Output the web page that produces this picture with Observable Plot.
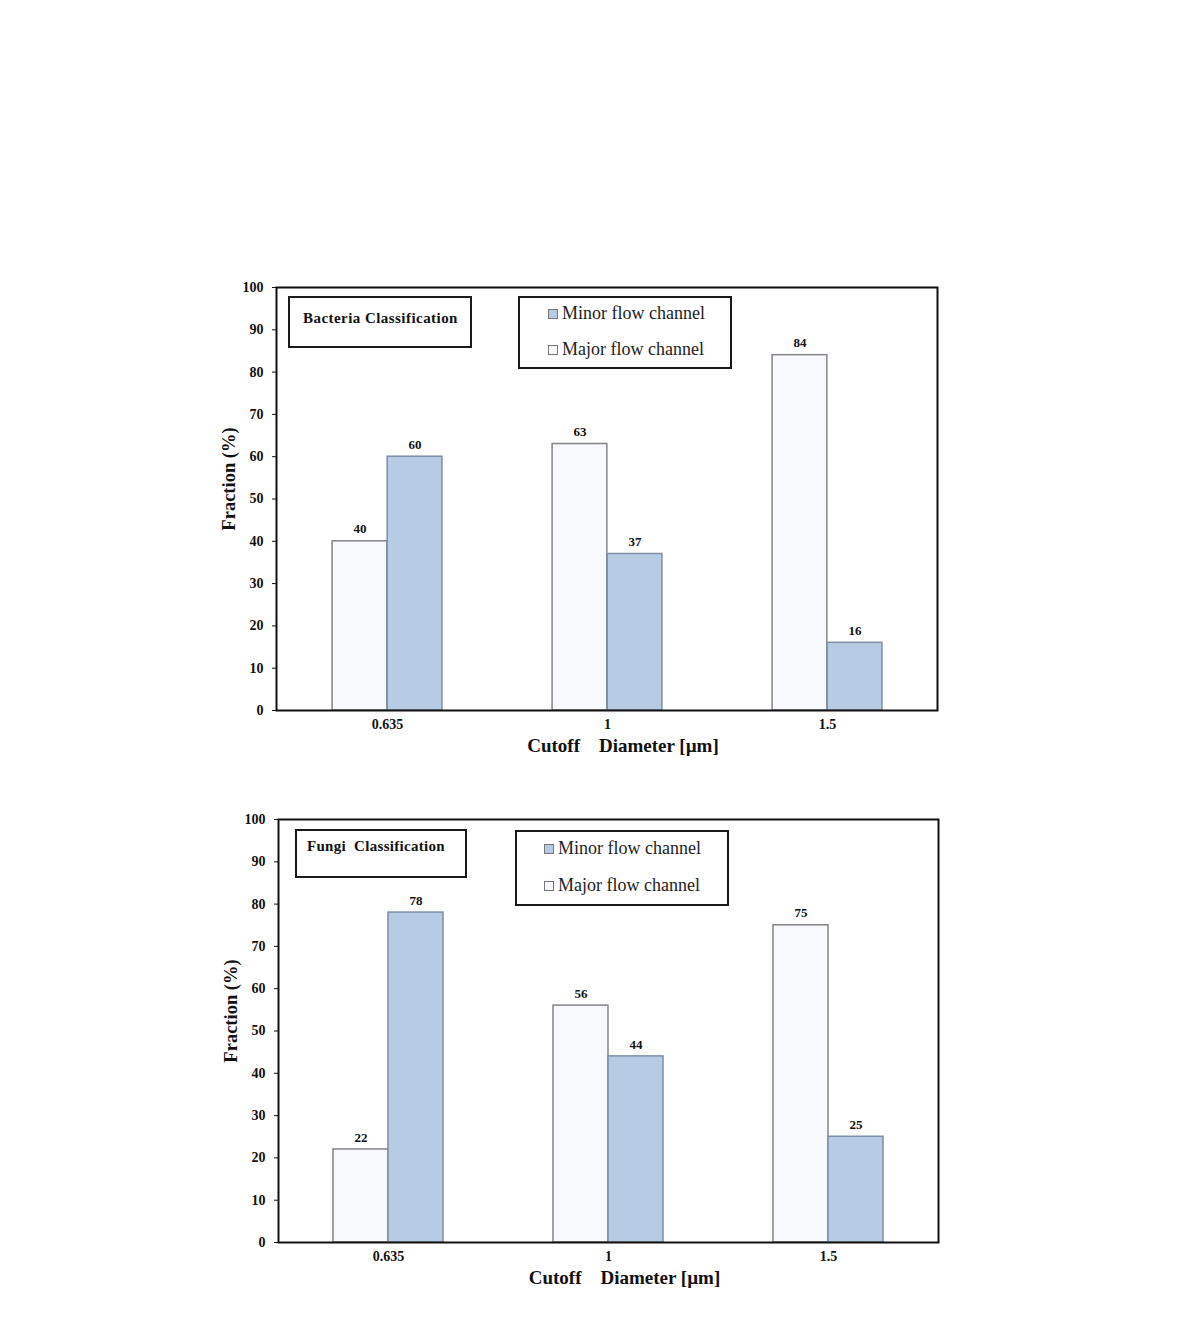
<!DOCTYPE html>
<html>
<head>
<meta charset="utf-8">
<script src="https://cdn.jsdelivr.net/npm/d3@7"></script>
<script src="https://cdn.jsdelivr.net/npm/@observablehq/plot@0.6"></script>
<style>
  body { margin: 0; background: #fff; }
  #page { position: relative; width: 1190px; height: 1331px; background: #fff; font-family: "Liberation Serif", "Times New Roman", serif; }
  .chart { position: absolute; left: 0; width: 1000px; height: 490px; }
  .box { position: absolute; box-sizing: border-box; border: 2px solid #1a1a1a; background: #fff; }
  .title { font-weight: bold; font-size: 15px; color: #111; white-space: pre; }
  .leg { font-size: 18px; color: #222; white-space: pre; }
  .row { position: absolute; display: flex; align-items: center; }
  .sw { display: inline-block; width: 8px; height: 8px; border: 1px solid #777; margin-right: 4px; }
</style>
</head>
<body>
<div id="page">
  <div class="chart" id="c1" style="top:270px"></div>
  <div class="chart" id="c2" style="top:802px"></div>
</div>
<script>
// ---- data ----
const cutoffs = ["0.635", "1", "1.5"];
const bacteriaMajor = [40, 63, 84];
const bacteriaMinor = [60, 37, 16];
const fungiMajor = [22, 56, 75];
const fungiMinor = [78, 44, 25];
const yTicks = [0, 10, 20, 30, 40, 50, 60, 70, 80, 90, 100];
const seriesNames = ["Minor flow channel", "Major flow channel"];
const titles = ["Bacteria Classification", "Fungi  Classification"];
const xLabel = "Cutoff\u00a0\u00a0\u00a0\u00a0Diameter [\u00b5m]";
const yLabel = "Fraction (%)";

const majorFill = "#f7f9fc";
const minorFill = "#b7cbe4";
const FONT = '"Liberation Serif", "Times New Roman", serif';

function chart(el, major, minor, ml, mr, cfg) {
  const width = 1000, height = 490, mt = 17, mb = 50;
  const bw = (width - ml - mr) / cutoffs.length;
  const majRows = cutoffs.map((c, i) => ({cutoff: c, value: major[i]}));
  const minRows = cutoffs.map((c, i) => ({cutoff: c, value: minor[i]}));
  const p = Plot.plot({
    width, height,
    marginLeft: ml, marginRight: mr, marginTop: mt, marginBottom: mb,
    style: {fontFamily: FONT, fontWeight: "bold", fontSize: "14px", color: "#111", background: "#fff"},
    x: {domain: cutoffs, padding: 0},
    y: {domain: [0, 100]},
    marks: [
      Plot.barY(majRows, {x: "cutoff", y: "value", fill: majorFill, stroke: "#858585", strokeWidth: 1.5, insetLeft: bw * 0.25, insetRight: bw * 0.5}),
      Plot.barY(minRows, {x: "cutoff", y: "value", fill: minorFill, stroke: "#7f8ea3", strokeWidth: 1.5, insetLeft: bw * 0.5, insetRight: bw * 0.25}),
      Plot.text(majRows, {x: "cutoff", y: "value", text: d => String(d.value), dx: -bw * 0.125, dy: -12, fontSize: 13, fontFamily: FONT, fontWeight: "bold", fill: "#111"}),
      Plot.text(minRows, {x: "cutoff", y: "value", text: d => String(d.value), dx: bw * 0.125, dy: -12, fontSize: 13, fontFamily: FONT, fontWeight: "bold", fill: "#111"}),
      Plot.axisY({ticks: yTicks, tickSize: 4, tickPadding: 9, label: null, fontSize: 14, fontFamily: FONT, fontWeight: "bold"}),
      Plot.axisX({tickSize: 0, tickPadding: 9, label: null, fontSize: 14, fontFamily: FONT, fontWeight: "bold"}),
      Plot.frame({stroke: "#111", strokeWidth: 2}),
      Plot.text([xLabel], {frameAnchor: "bottom", lineAnchor: "middle", textAnchor: "middle", dx: 16, dy: 35, fontSize: 19, fontFamily: FONT, fontWeight: "bold", fill: "#111"}),
      Plot.text([yLabel], {frameAnchor: "left", lineAnchor: "middle", textAnchor: "middle", dx: -47, dy: -20, rotate: -90, fontSize: 18.5, fontFamily: FONT, fontWeight: "bold", fill: "#111"})
    ]
  });
  el.appendChild(p);

  // title box
  const tb = document.createElement("div");
  tb.className = "box";
  Object.assign(tb.style, {left: cfg.tb[0] + "px", top: cfg.tb[1] + "px", width: cfg.tb[2] + "px", height: cfg.tb[3] + "px"});
  const tt = document.createElement("div");
  tt.className = "title";
  tt.textContent = cfg.title;
  Object.assign(tt.style, {position: "absolute", left: cfg.tt[0] + "px", top: cfg.tt[1] + "px", letterSpacing: cfg.tt[2] + "px"});
  tb.appendChild(tt);
  el.appendChild(tb);

  // legend box
  const lb = document.createElement("div");
  lb.className = "box";
  Object.assign(lb.style, {left: cfg.lb[0] + "px", top: cfg.lb[1] + "px", width: cfg.lb[2] + "px", height: cfg.lb[3] + "px", borderWidth: "2.5px"});
  const fills = [minorFill, majorFill];
  seriesNames.forEach((name, i) => {
    const r = document.createElement("div");
    r.className = "row leg";
    Object.assign(r.style, {left: cfg.rows[0] + "px", top: cfg.rows[1 + i] + "px"});
    const s = document.createElement("span");
    s.className = "sw";
    s.style.background = fills[i];
    r.appendChild(s);
    const t = document.createElement("span");
    t.textContent = name;
    r.appendChild(t);
    lb.appendChild(r);
  });
  el.appendChild(lb);
}

chart(document.getElementById("c1"), bacteriaMajor, bacteriaMinor, 276, 63, {
  title: titles[0],
  tb: [288, 26, 184, 52], tt: [13, 12, 0.45],
  lb: [518, 26, 214, 73], rows: [28, 5, 41]
});
chart(document.getElementById("c2"), fungiMajor, fungiMinor, 278, 62, {
  title: titles[1],
  tb: [295, 27, 172, 49], tt: [10, 7, 0.3],
  lb: [515, 28, 214, 76], rows: [27, 6, 43]
});
</script>
</body>
</html>
